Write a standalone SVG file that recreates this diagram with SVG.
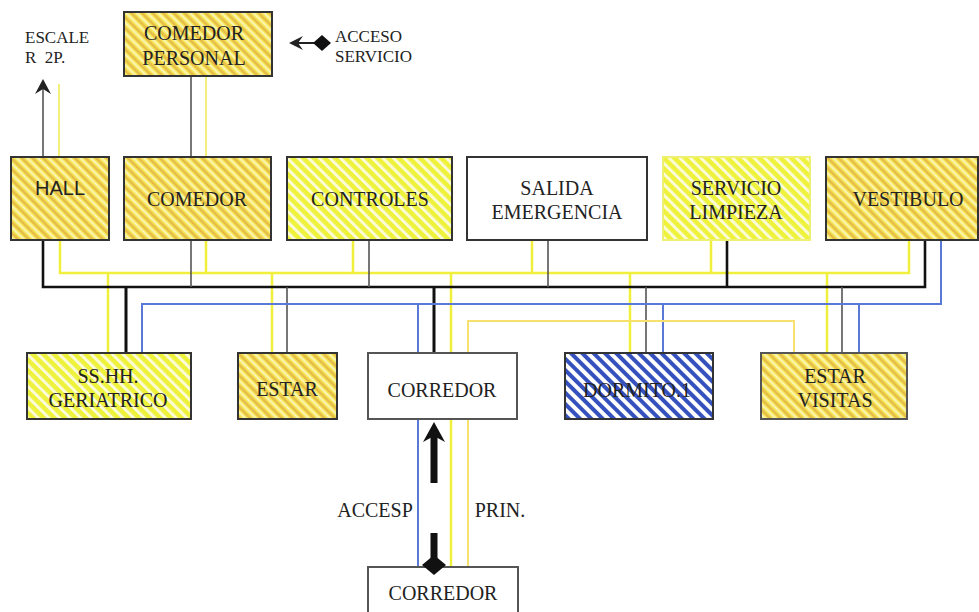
<svg xmlns="http://www.w3.org/2000/svg" width="979" height="612" viewBox="0 0 979 612">
<defs>
<pattern id="pOrange" patternUnits="userSpaceOnUse" width="7.5" height="7.5" patternTransform="rotate(-45)">
<rect width="7.5" height="7.5" fill="#f4e650"/>
<rect x="0" width="2.4" height="7.5" fill="#e6bb48"/>
<rect x="4.2" width="1.8" height="7.5" fill="#fcf6c4"/>
</pattern>
<pattern id="pYellow" patternUnits="userSpaceOnUse" width="7.5" height="7.5" patternTransform="rotate(-45)">
<rect width="7.5" height="7.5" fill="#eef23a"/>
<rect x="0" width="3" height="7.5" fill="#fbfbd8"/>
</pattern>
<pattern id="pBlue" patternUnits="userSpaceOnUse" width="8" height="8" patternTransform="rotate(-45)">
<rect width="8" height="8" fill="#ffffff"/>
<rect x="0" width="4" height="8" fill="#3551be"/>
</pattern>
<style>
.box{stroke:#333;stroke-width:2}
.t{font-family:"Liberation Serif","Times New Roman","DejaVu Serif",serif;font-size:20px;fill:#222;text-anchor:middle}
.s{font-family:"Liberation Serif","Times New Roman","DejaVu Serif",serif;font-size:17px;fill:#222}
.y{stroke:#f0f03c;stroke-width:2.5;fill:none}
.py{stroke:#f6e06e;stroke-width:2;fill:none}
.g{stroke:#555;stroke-width:1.6;fill:none}
.k{stroke:#111;stroke-width:2.6;fill:none}
.b{stroke:#5a78d6;stroke-width:2;fill:none}
</style>
</defs>
<rect width="979" height="612" fill="#ffffff"/>

<g id="escaler">
<text class="s" x="25" y="43">ESCALE</text>
<text class="s" x="25" y="63" xml:space="preserve">R  2P.</text>
</g>
<g id="acceso-servicio">
<text class="s" x="335" y="42">ACCESO</text>
<text class="s" x="335" y="62">SERVICIO</text>
</g>

<g id="comedor-personal">
<rect class="box" x="124" y="12" width="148" height="64" fill="url(#pOrange)"/>
<text class="t" x="194" y="40">COMEDOR</text>
<text class="t" x="194" y="65">PERSONAL</text>
</g>

<g id="hall">
<rect class="box" x="11" y="157" width="98" height="83" fill="url(#pOrange)"/>
<text x="60" y="195" font-family="Liberation Sans, Arial, sans-serif" font-size="20" fill="#222" text-anchor="middle">HALL</text>
</g>
<g id="comedor">
<rect class="box" x="124" y="157" width="147" height="83" fill="url(#pOrange)"/>
<text class="t" x="197" y="206">COMEDOR</text>
</g>
<g id="controles">
<rect class="box" x="287" y="157" width="165" height="83" fill="url(#pYellow)"/>
<text class="t" x="370" y="206">CONTROLES</text>
</g>
<g id="salida-emergencia">
<rect class="box" x="467" y="157" width="180" height="83" fill="#ffffff"/>
<text class="t" x="557" y="195">SALIDA</text>
<text class="t" x="557" y="219">EMERGENCIA</text>
</g>
<g id="servicio-limpieza">
<rect x="663" y="157" width="147" height="83" fill="url(#pYellow)" stroke="#eef070" stroke-width="2"/>
<text class="t" x="736" y="195">SERVICIO</text>
<text class="t" x="736" y="219">LIMPIEZA</text>
</g>
<g id="vestibulo">
<rect class="box" x="826" y="157" width="152" height="83" fill="url(#pOrange)"/>
<text class="t" x="908" y="206">VESTIBULO</text>
</g>

<g id="sshh-geriatrico">
<rect class="box" x="27" y="353" width="164" height="66" fill="url(#pYellow)"/>
<text class="t" x="108" y="383">SS.HH.</text>
<text class="t" x="108" y="407">GERIATRICO</text>
</g>
<g id="estar">
<rect class="box" x="238" y="353" width="99" height="66" fill="url(#pOrange)"/>
<text class="t" x="287" y="396">ESTAR</text>
</g>
<g id="corredor">
<rect class="box" x="368" y="353" width="149" height="66" fill="#ffffff" style="stroke:#555"/>
<text class="t" x="442" y="397">CORREDOR</text>
</g>
<g id="dormito">
<rect class="box" x="565" y="353" width="148" height="66" fill="url(#pBlue)"/>
<text class="t" x="637" y="397">DORMITO.1</text>
</g>
<g id="estar-visitas">
<rect class="box" x="761" y="353" width="146" height="66" fill="url(#pOrange)" style="stroke:#555"/>
<text class="t" x="835" y="383">ESTAR</text>
<text class="t" x="835" y="407">VISITAS</text>
</g>

<g id="corredor-2">
<rect class="box" x="368" y="567" width="150" height="50" fill="#ffffff" style="stroke:#555"/>
<text class="t" x="443" y="600">CORREDOR</text>
</g>
<g id="labels">
<text class="t" x="375" y="517">ACCESP</text>
<text class="t" x="500" y="517">PRIN.</text>
</g>

<g id="connectors">
<path class="y" d="M60,241 V273 H909 V241"/>
<path class="y" d="M206,241 V273 M353,241 V273 M532,241 V273 M711,241 V273"/>
<path class="y" d="M108,273 V352 M272,273 V352 M451,273 V352 M630,273 V352 M827,273 V352"/>
<path class="k" d="M43,241 V287 H925 V241"/>
<path class="g" d="M191,241 V287 M369,241 V287 M548,241 V287"/>
<path class="k" d="M727,241 V287"/>
<path class="k" style="stroke-width:3" d="M126,287 V352 M434,287 V352"/>
<path class="g" d="M287,287 V352 M646,287 V352 M842,287 V352"/>
<path class="b" d="M142,352 V304 H941 V241"/>
<path class="b" d="M418,304 V352 M663,304 V352 M859,304 V352"/>
<path class="py" d="M468,352 V321 H794 V352"/>
<path class="g" d="M191,77 V156"/>
<path class="py" style="stroke:#f2f07a" d="M206,77 V156"/>
<path class="g" d="M43,156 V84"/>
<path d="M35,94 L43,79 L51,94 L43,89 Z" fill="#222"/>
<path class="py" style="stroke:#f2f07a" d="M59,84 V156"/>
<path class="g" style="stroke:#222;stroke-width:2" d="M296,43 H314"/>
<path d="M303,36 L289,43 L303,50 L298,43 Z" fill="#222"/>
<path d="M313,43 L322,35 L331,43 L322,51 Z" fill="#111"/>
<path class="b" d="M418,420 V566"/>
<path class="y" d="M451,420 V566"/>
<path class="py" d="M468,420 V566"/>
<path d="M434,432 V483 M434,533 V558" stroke="#111" stroke-width="7" fill="none"/>
<path d="M423,442 L434,422 L445,442 L434,436 Z" fill="#111"/>
<path d="M422,565 L434,555 L446,565 L434,575 Z" fill="#111"/>
</g>
</svg>
